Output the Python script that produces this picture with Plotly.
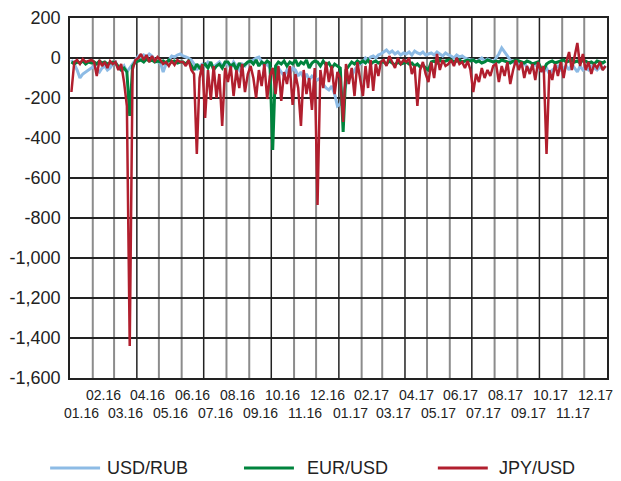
import plotly.graph_objects as go
import pandas as pd

month_labels = ["01.16", "02.16", "03.16", "04.16", "05.16", "06.16",
                "07.16", "08.16", "09.16", "10.16", "11.16", "12.16",
                "01.17", "02.17", "03.17", "04.17", "05.17", "06.17",
                "07.17", "08.17", "09.17", "10.17", "11.17", "12.17"]

y_ticks = [200, 0, -200, -400, -600, -800, -1000, -1200, -1400, -1600]
y_tick_text = ["200", "0", "-200", "-400", "-600", "-800", "-1,000",
               "-1,200", "-1,400", "-1,600"]

series_names = ["USD/RUB", "EUR/USD", "JPY/USD"]

# 8 readings per month, Jan 2016 .. Dec 2017
usd_rub = [
    [-10, -30, -60, -100, -80, -70, -60, -50],
    [-40, -60, -70, -50, -40, -60, -50, -30],
    [-20, -50, -60, -40, -70, -50, -30, -10],
    [10, 0, 15, 5, 20, 10, -10, -20],
    [-20, -70, -30, -10, 10, 5, 15, 20],
    [10, 5, 0, -10, -30, -60, -40, -30],
    [-40, -20, -30, -45, -30, -20, -40, -30],
    [-30, -50, -20, -40, -60, -30, -40, -20],
    [-20, -10, 0, 5, -20, -40, -30, -50],
    [-60, -80, -50, -70, -90, -60, -80, -50],
    [-60, -90, -70, -100, -80, -110, -90, -100],
    [-110, -100, -130, -150, -160, -140, -180, -240],
    [-230, -180, -130, -110, -90, -60, -40, -30],
    [-20, 0, -10, 5, 10, 0, 15, 20],
    [30, 40, 25, 35, 20, 30, 15, 25],
    [20, 30, 15, 35, 25, 20, 30, 15],
    [20, 25, 15, 30, 20, 10, 25, 15],
    [10, 0, 15, 5, 10, 0, -5, -10],
    [-10, -20, -10, 0, -15, -5, -10, -20],
    [0, 20, 50, 30, 10, -10, -20, -30],
    [-30, -40, -20, -50, -60, -40, -30, -50],
    [-60, -70, -50, -80, -60, -50, -40, -60],
    [-50, -40, -60, -30, -50, -70, -40, -60],
    [-50, -60, -40, -50, -60, -45, -55, -40],
]

eur_usd = [
    [-20, -30, -20, -25, -15, -30, -20, -25],
    [-20, -30, -15, -25, -20, -30, -25, -20],
    [-25, -40, -60, -50, -70, -290, -40, -20],
    [-15, -10, -20, -5, -15, -10, -20, -15],
    [-20, -15, -25, -10, -20, -15, -25, -20],
    [-20, -30, -15, -40, -60, -30, -50, -40],
    [-30, -50, -20, -60, -40, -30, -50, -20],
    [-20, -40, -30, -60, -25, -45, -30, -20],
    [-15, -30, -10, -40, -20, -30, -15, -25],
    [-460, -40, -20, -30, -15, -40, -20, -30],
    [-10, -40, -20, -30, -10, -50, -25, -15],
    [-20, -40, -15, -35, -25, -50, -30, -40],
    [-50, -370, -60, -40, -20, -30, -15, -25],
    [-15, -25, -10, -30, -20, -15, -25, -20],
    [-20, -30, -15, -25, -35, -20, -30, -25],
    [-20, -30, -25, -40, -30, -45, -35, -50],
    [-60, -20, -15, -25, -10, -20, -15, -10],
    [-10, -20, -15, -10, -20, -15, -10, -15],
    [-10, -20, -15, -25, -20, -10, -15, -20],
    [-15, -20, -10, -15, -20, -25, -15, -10],
    [-15, -20, -25, -15, -20, -30, -25, -20],
    [-50, -60, -30, -20, -15, -25, -20, -15],
    [-10, -20, -15, -10, -20, -15, -25, -10],
    [-15, -25, -20, -30, -15, -20, -25, -15],
]

jpy_usd = [
    [-170, -20, -10, -30, -5, -20, -15, -10],
    [-20, -90, -10, -40, -20, -50, -15, -30],
    [-20, -60, -30, -120, -240, -1440, -60, -10],
    [0, 20, -10, 15, -20, 10, -15, 5],
    [-10, -30, -20, -40, -15, -35, -10, -20],
    [-20, -40, -10, -60, -80, -480, -100, -30],
    [-300, -60, -210, -40, -200, -80, -340, -50],
    [-120, -40, -190, -60, -150, -30, -170, -80],
    [-40, -100, -200, -60, -140, -30, -205, -90],
    [-50, -180, -40, -215, -70, -130, -40, -235],
    [-80, -150, -340, -60, -180, -100, -260, -50],
    [-735, -60, -150, -20, -120, -40, -180, -70],
    [-100, -320, -30, -130, -50, -190, -20, -100],
    [-190, -40, -150, -10, -165, -30, -90, -20],
    [-10, -40, 10, -20, -50, 0, -30, -10],
    [-20, 0, -80, -40, -240, -60, -20, -80],
    [-120, -20, -100, 20, -60, -10, -40, -30],
    [-10, -40, 0, -30, -20, -50, -15, -60],
    [-170, -80, -120, -50, -100, -60, -90, -40],
    [-30, -120, -40, -90, -20, -130, -60, -10],
    [-60, -20, -100, -40, -80, -30, -110, -20],
    [-70, -40, -480, -60, -110, -30, -90, -20],
    [-100, -20, 30, -60, 10, 75, -40, 20],
    [-60, -20, -80, -30, -50, -20, -60, -40],
]

colors = ["#8dbbe5", "#00843d", "#b11f2e"]
widths = [3, 3, 2.5]

month_starts = pd.date_range("2016-01-01", periods=len(month_labels), freq="MS")


def month_dates(values):
    xs, ys = [], []
    for ms, row in zip(month_starts, values):
        n = len(row)
        days = ms.days_in_month
        for i, v in enumerate(row):
            xs.append(ms + pd.Timedelta(hours=(i + 0.5) / n * days * 24))
            ys.append(v)
    return xs, ys


FONT = "Liberation Sans, Arial, sans-serif"
TXT = "#222222"

fig = go.Figure()
for name, vals, color, w in zip(series_names, [usd_rub, eur_usd, jpy_usd],
                                colors, widths):
    xs, ys = month_dates(vals)
    fig.add_trace(go.Scatter(x=xs, y=ys, mode="lines", name=name,
                             line=dict(color=color, width=w)))

shapes = []
for ms in month_starts[1:]:
    quarter = ms.month in (1, 4, 7, 10)
    shapes.append(dict(type="line", xref="x", yref="paper", x0=ms, x1=ms,
                       y0=0, y1=1, layer="below",
                       line=dict(color="#222222" if quarter else "#8c8c8c",
                                 width=1.5 if quarter else 2)))

annotations = []
for k, (ms, lab) in enumerate(zip(month_starts, month_labels)):
    mid = ms + pd.Timedelta(hours=ms.days_in_month * 12)
    annotations.append(dict(x=mid, y=0, xref="x", yref="paper", text=lab,
                            showarrow=False, yanchor="middle",
                            yshift=-17 if k % 2 == 1 else -35,
                            font=dict(size=14, color=TXT, family=FONT)))

# custom legend (long line samples as in the reference)
legend_line_x = [(-0.037, 0.056), (0.324, 0.417), (0.685, 0.778)]
legend_text_x = [0.066, 0.437, 0.796]
for name, color, (lx0, lx1), tx in zip(series_names, colors, legend_line_x,
                                       legend_text_x):
    shapes.append(dict(type="line", xref="paper", yref="paper", x0=lx0,
                       x1=lx1, y0=-0.25, y1=-0.25,
                       line=dict(color=color, width=3)))
    annotations.append(dict(x=tx, y=-0.25, xref="paper", yref="paper",
                            text=name, showarrow=False, xanchor="left",
                            yanchor="middle",
                            font=dict(size=18, color=TXT, family=FONT)))

# the page body adds an 8px offset; margins compensate for it
fig.update_layout(
    width=613, height=473,
    margin=dict(l=62, r=14, t=10, b=103, autoexpand=False),
    paper_bgcolor="white", plot_bgcolor="white",
    font=dict(family=FONT, color=TXT),
    shapes=shapes, annotations=annotations,
    showlegend=False,
    xaxis=dict(type="date", range=["2016-01-01", "2018-01-01"],
               showgrid=False, showticklabels=False, zeroline=False,
               showline=True, linecolor="#222222", linewidth=1.5, mirror=True,
               ticks=""),
    yaxis=dict(range=[-1600, 200], tickmode="array", tickvals=y_ticks,
               ticktext=y_tick_text, showgrid=True, gridcolor="#222222",
               gridwidth=1.5, zeroline=False, showline=True,
               linecolor="#222222", linewidth=1.5, mirror=True, ticks="",
               ticklabelstandoff=4, ticklabeloverflow="allow",
               tickfont=dict(size=18, family=FONT, color=TXT)),
)

fig.write_html("out.html")
